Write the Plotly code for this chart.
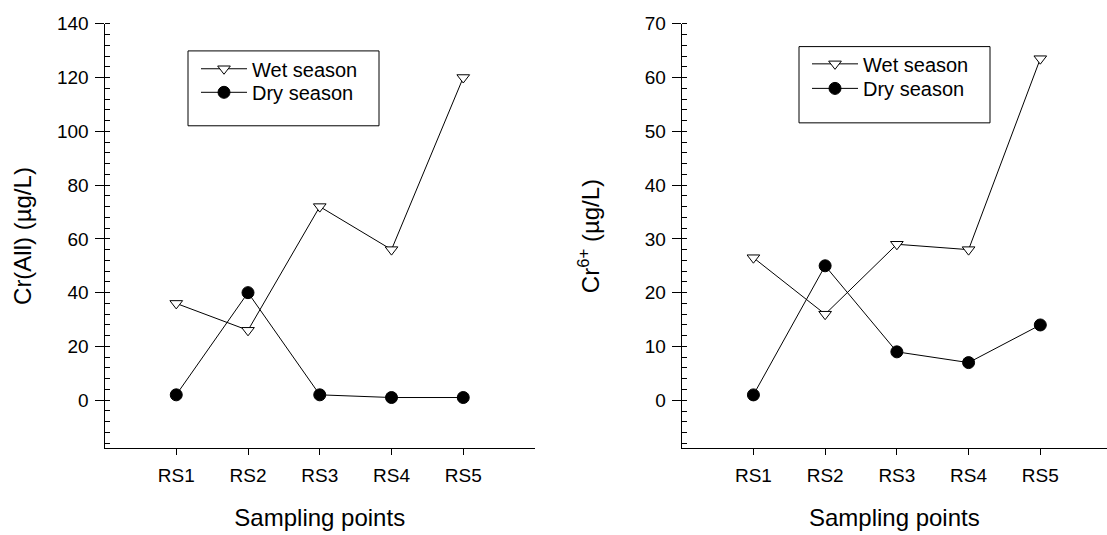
import plotly.graph_objects as go

# ---- data ----
sites = ["RS1", "RS2", "RS3", "RS4", "RS5"]
cr_all_wet = [36, 26, 72, 56, 120]
cr_all_dry = [2, 40, 2, 1, 1]
cr6_wet = [26.5, 16, 29, 28, 63.5]
cr6_dry = [1, 25, 9, 7, 14]
series_names = ["Wet season", "Dry season"]

W, H = 1107, 535
FONT = "Liberation Sans, Arial, sans-serif"

def px_x(v):
    return v / W

def px_y(v):
    return 1 - v / H

dom_y = [px_y(446.7), px_y(14)]
dom_x1 = [px_x(104.5), px_x(535)]
dom_x2 = [px_x(681.7), 1.0]

wet_style = dict(mode="lines+markers", showlegend=True,
                 line=dict(color="black", width=1),
                 marker=dict(symbol="triangle-down", size=11, color="white",
                             line=dict(color="black", width=1)))
dry_style = dict(mode="lines+markers", showlegend=True,
                 line=dict(color="black", width=1),
                 marker=dict(symbol="circle", size=12, color="black",
                             line=dict(color="black", width=1)))

fig = go.Figure()
fig.add_trace(go.Scatter(x=sites, y=cr_all_wet, name=series_names[0],
                         xaxis="x", yaxis="y", legend="legend", **wet_style))
fig.add_trace(go.Scatter(x=sites, y=cr_all_dry, name=series_names[1],
                         xaxis="x", yaxis="y", legend="legend2", **dry_style))
fig.add_trace(go.Scatter(x=sites, y=cr6_wet, name=series_names[0],
                         xaxis="x2", yaxis="y2", legend="legend3", **wet_style))
fig.add_trace(go.Scatter(x=sites, y=cr6_dry, name=series_names[1],
                         xaxis="x2", yaxis="y2", legend="legend4", **dry_style))

tickfont = dict(family=FONT, size=19, color="black")
titlefont = dict(family=FONT, size=24, color="black")

xcommon = dict(type="category", categoryorder="array", categoryarray=sites,
               showgrid=False, zeroline=False, showline=True,
               linecolor="black", linewidth=1, ticks="outside", ticklen=6,
               tickcolor="black", tickfont=tickfont, ticklabelstandoff=4,
               title=dict(text="Sampling points", font=titlefont, standoff=24))
ycommon = dict(showgrid=False, zeroline=False, showline=True,
               linecolor="black", linewidth=1, ticks="outside", ticklen=9,
               tickcolor="black", tickfont=tickfont, tick0=0,
               ticklabelstandoff=2, domain=dom_y)

def legend_at(xpx, ypx):
    return dict(visible=True, x=px_x(xpx), y=px_y(ypx),
                xanchor="left", yanchor="top",
                bgcolor="rgba(0,0,0,0)", borderwidth=0, itemwidth=46,
                font=dict(family=FONT, size=20, color="black"),
                tracegroupgap=0)

fig.update_layout(
    width=W, height=H,
    margin=dict(l=0, r=0, t=0, b=0),
    paper_bgcolor="white", plot_bgcolor="white",
    showlegend=True,
    font=dict(family=FONT, color="black"),
    xaxis=dict(domain=dom_x1, anchor="y", range=[-1, 5], **xcommon),
    xaxis2=dict(domain=dom_x2, anchor="y2", range=[-1, 4.93], **xcommon),
    yaxis=dict(anchor="x", range=[-17.9, 140], dtick=20,
               minor=dict(dtick=4, tick0=0, ticks="inside", ticklen=5,
                          tickcolor="black"),
               title=dict(text="Cr(All) (µg/L)", font=titlefont, standoff=18),
               **ycommon),
    yaxis2=dict(anchor="x2", range=[-8.94, 70], dtick=10,
                minor=dict(dtick=2, tick0=0, ticks="inside", ticklen=5,
                           tickcolor="black"),
                title=dict(text="Cr<sup>6+</sup> (µg/L)", font=titlefont, standoff=38),
                **ycommon),
    # top mirror axes (ticks inward)
    xaxis3=dict(type="category", categoryorder="array", categoryarray=sites,
                overlaying="x", anchor="y", side="top", range=[-1, 5],
                domain=dom_x1, showline=True, linecolor="black", linewidth=1,
                ticks="inside", ticklen=6, tickcolor="black",
                showticklabels=False, showgrid=False, zeroline=False),
    xaxis4=dict(type="category", categoryorder="array", categoryarray=sites,
                overlaying="x2", anchor="y2", side="top", range=[-1, 4.93],
                domain=dom_x2, showline=True, linecolor="black", linewidth=1,
                ticks="inside", ticklen=6, tickcolor="black",
                showticklabels=False, showgrid=False, zeroline=False),
    # right mirror axes (ticks inward)
    yaxis3=dict(overlaying="y", anchor="x", side="right", range=[-17.9, 140],
                dtick=20, tick0=0, domain=dom_y, showline=True,
                linecolor="black", linewidth=1, ticks="inside", ticklen=9,
                tickcolor="black", showticklabels=False, showgrid=False,
                zeroline=False,
                minor=dict(dtick=4, tick0=0, ticks="inside", ticklen=5,
                           tickcolor="black")),
    yaxis4=dict(overlaying="y2", anchor="x2", side="right", range=[-8.94, 70],
                dtick=10, tick0=0, domain=dom_y, showline=True,
                linecolor="black", linewidth=1, ticks="inside", ticklen=9,
                tickcolor="black", showticklabels=False, showgrid=False,
                zeroline=False,
                minor=dict(dtick=2, tick0=0, ticks="inside", ticklen=5,
                           tickcolor="black")),
    legend=legend_at(196, 40),
    legend2=legend_at(196, 64),
    legend3=legend_at(807, 35),
    legend4=legend_at(807, 60),
    shapes=[
        dict(type="rect", xref="paper", yref="paper",
             x0=px_x(188), x1=px_x(379), y0=px_y(118), y1=px_y(41.7),
             line=dict(color="black", width=1), fillcolor="rgba(0,0,0,0)",
             layer="below"),
        dict(type="rect", xref="paper", yref="paper",
             x0=px_x(799), x1=px_x(990), y0=px_y(115), y1=px_y(37.3),
             line=dict(color="black", width=1), fillcolor="rgba(0,0,0,0)",
             layer="below"),
    ],
)

fig.write_html("out.html")
